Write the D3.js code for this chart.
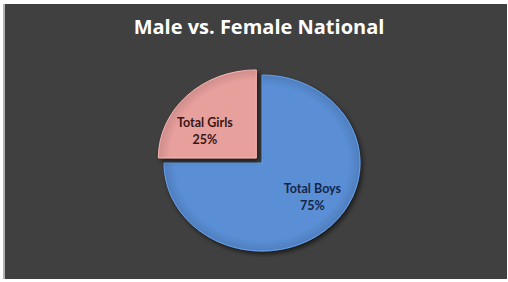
<!DOCTYPE html>
<html>
<head>
<meta http-equiv="Content-Type" content="text/html;charset=utf-8">
<script type="text/javascript" src="https://d3js.org/d3.v7.min.js"></script>
<style>
  body { margin: 0; background: #fff; }
</style>
</head>
<body>
<div id="chart"></div>
<script type="text/javascript">

var title = "Male vs. Female National";
var categories = ["Total Boys", "Total Girls"];
var values = [75, 25];
var colors = ["#5a8fd6", "#e8a09d"];
var labelColors = ["#15264a", "#3a1616"];

var width = 508, height = 282;
var cx = 262, cy = 163, rx = 98, ry = 88;
var explode = 8;

var svg = d3.select("#chart").append("svg")
    .attr("width", width)
    .attr("height", height);

var defs = svg.append("defs");

var shadow = defs.append("filter").attr("id", "shadow")
    .attr("x", "-20%").attr("y", "-20%").attr("width", "140%").attr("height", "140%");
shadow.append("feDropShadow")
    .attr("dx", 2).attr("dy", 3).attr("stdDeviation", 2.5)
    .attr("flood-color", "#000").attr("flood-opacity", 0.6);

colors.forEach(function (c, i) {
  var g = defs.append("radialGradient").attr("id", "grad" + i)
      .attr("gradientUnits", "userSpaceOnUse")
      .attr("cx", 0).attr("cy", 0).attr("r", rx);
  g.append("stop").attr("offset", "0%").attr("stop-color", c);
  g.append("stop").attr("offset", "88%").attr("stop-color", c);
  g.append("stop").attr("offset", "100%").attr("stop-color", d3.color(c).darker(0.35));
});

// background panel
svg.append("rect")
    .attr("x", 5).attr("y", 4)
    .attr("width", 502).attr("height", 275)
    .attr("fill", "#404040");
svg.append("line")
    .attr("x1", 4).attr("x2", 4).attr("y1", 4).attr("y2", 279)
    .attr("stroke", "#9a9a9a").attr("stroke-width", 1.5);

svg.append("text")
    .attr("x", 259).attr("y", 34)
    .attr("text-anchor", "middle")
    .attr("font-family", "'Open Sans', Lato, sans-serif")
    .attr("font-weight", "bold")
    .attr("font-size", 20)
    .attr("fill", "#fff")
    .text(title);

var pie = d3.pie().sort(null).startAngle(0).endAngle(2 * Math.PI);
var arcs = pie(values);

var arc = d3.arc().innerRadius(0).outerRadius(rx);
var labelArc = d3.arc().innerRadius(60).outerRadius(60);
var sy = ry / rx;
// small per-slice nudges for the label block
var labelNudge = [[8, -8], [-9, 7]];

function offset(d, i) {
  if (i === 0) return [0, 0];
  var mid = (d.startAngle + d.endAngle) / 2;
  return [Math.sin(mid) * explode, -Math.cos(mid) * explode * sy];
}

var slices = svg.append("g").selectAll("g.slice")
    .data(arcs)
    .enter().append("g")
    .attr("class", "slice")
    .attr("transform", function (d, i) {
      var o = offset(d, i);
      return "translate(" + (cx + o[0]) + "," + (cy + o[1]) + ") scale(1," + sy + ")";
    });

slices.append("path")
    .attr("d", arc)
    .attr("fill", function (d, i) { return "url(#grad" + i + ")"; })
    .attr("stroke", function (d, i) { return d3.color(colors[i]).brighter(0.4); })
    .attr("stroke-width", 1)
    .attr("filter", "url(#shadow)");

var labels = svg.append("g").selectAll("text.label")
    .data(arcs)
    .enter().append("text")
    .attr("class", "label")
    .attr("text-anchor", "middle")
    .attr("font-family", "Lato, 'Open Sans', sans-serif")
    .attr("font-weight", "bold")
    .attr("font-size", 12.5)
    .attr("fill", function (d, i) { return labelColors[i]; })
    .attr("transform", function (d, i) {
      var o = offset(d, i);
      var c = labelArc.centroid(d);
      var n = labelNudge[i];
      return "translate(" + (cx + o[0] + c[0] + n[0]) + "," + (cy + o[1] + c[1] * sy + n[1]) + ")";
    });

labels.append("tspan")
    .attr("x", 0).attr("dy", 0)
    .text(function (d, i) { return categories[i]; });
labels.append("tspan")
    .attr("x", 0).attr("dy", 17)
    .text(function (d) { return d.value + "%"; });

</script>
</body>
</html>
